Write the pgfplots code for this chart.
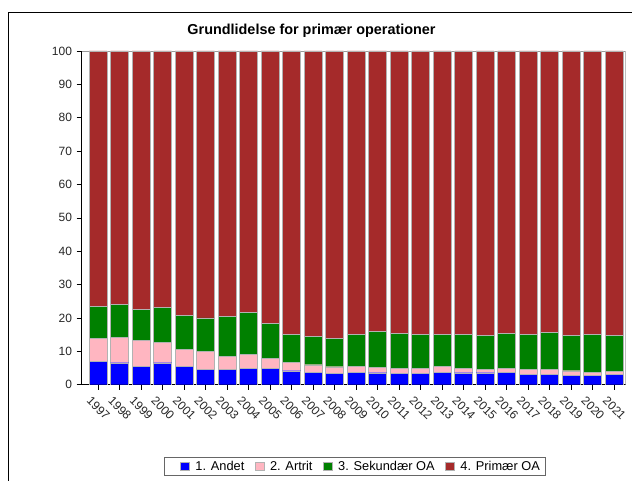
\documentclass[border=0pt]{standalone}
\usepackage{pgfplots}
\pgfplotsset{compat=1.18}
\usepackage{pgfplotstable}
\usepackage{fontspec}
\setmainfont{Liberation Sans}
\definecolor{cAndet}{RGB}{0,0,255}
\definecolor{cArtrit}{RGB}{255,182,193}
\definecolor{cSek}{RGB}{0,128,0}
\definecolor{cPrim}{RGB}{165,42,42}
\pgfplotstableread{
x andet artrit sek prim
0 7.1 6.9 9.5 76.5
1 6.6 7.7 9.7 76.0
2 5.5 7.9 9.1 77.5
3 6.6 6.1 10.4 76.9
4 5.6 5.0 10.1 79.3
5 4.7 5.2 10.1 80.0
6 4.7 3.7 12.0 79.6
7 4.9 4.3 12.4 78.4
8 5.0 3.0 10.3 81.7
9 4.2 2.5 8.4 84.9
10 3.7 2.3 8.6 85.4
11 3.4 2.0 8.5 86.1
12 3.7 1.9 9.4 85.0
13 3.6 1.7 10.6 84.1
14 3.4 1.5 10.6 84.5
15 3.5 1.5 10.2 84.8
16 3.8 1.7 9.5 85.0
17 3.6 1.3 10.1 85.0
18 3.6 1.0 10.2 85.2
19 3.7 1.2 10.4 84.7
20 3.2 1.4 10.4 85.0
21 3.2 1.5 10.9 84.4
22 2.9 1.3 10.7 85.1
23 2.8 0.9 11.4 84.9
24 3.1 1.0 10.6 85.3
}\datatable
\begin{document}
\begin{tikzpicture}
\useasboundingbox (0,0) rectangle (474pt,360.75pt);
\draw[black, line width=0.6pt] (6pt,0pt) -- (6pt,351.75pt) -- (474pt,351.75pt);
\begin{axis}[
  at={(61.3pt,72.2pt)}, anchor=south west,
  scale only axis, width=408pt, height=250.3pt,
  ybar stacked, bar width=0.84,
  xmin=-0.76, xmax=24.54, ymin=0, ymax=100,
  axis x line*=bottom, axis y line*=left,
  axis line style={black, line width=0.6pt},
  xtick=data,
  xticklabels={1997,1998,1999,2000,2001,2002,2003,2004,2005,2006,2007,2008,2009,2010,2011,2012,2013,2014,2015,2016,2017,2018,2019,2020,2021},
  ytick={0,10,...,100},
  tick align=outside, major tick length=3.75pt,
  tick style={black, line width=0.5pt},
  /pgf/number format/assume math mode=true,
  ticklabel style={font=\fontsize{9}{10}\selectfont, text=black!85},
  x tick label style={rotate=-45, anchor=north west, xshift=-3.5pt, yshift=-3pt},
  title={\textbf{Grundlidelse for primær operationer}},
  title style={at={(0.4224,1)}, anchor=base, yshift=6pt, font=\fontsize{10.8}{12}\selectfont},
  legend columns=5,
  legend style={at={(0.502,-0.245)}, anchor=center, draw=black!60, line width=0.4pt,
    font=\fontsize{9.6}{10}\selectfont, inner xsep=2pt, inner ysep=0.5pt,
    /tikz/every even column/.append style={column sep=6pt}},
  legend image code/.code={\draw[#1, line width=0.4pt] (0pt,-3.2pt) rectangle (6.4pt,3.2pt);},
]
\addlegendimage{empty legend}
\addlegendentry{\hspace{20pt}}
\addplot[fill=cAndet, draw=black!30, line width=0.3pt] table[x=x, y=andet] {\datatable};
\addlegendentry{\hspace{2.5pt}1. Andet}
\addplot[fill=cArtrit, draw=black!30, line width=0.3pt] table[x=x, y=artrit] {\datatable};
\addlegendentry{\hspace{2.5pt}2. Artrit}
\addplot[fill=cSek, draw=black!30, line width=0.3pt] table[x=x, y=sek] {\datatable};
\addlegendentry{\hspace{2.5pt}3. Sekundær OA}
\addplot[fill=cPrim, draw=black!30, line width=0.3pt] table[x=x, y=prim] {\datatable};
\addlegendentry{\hspace{2.5pt}4. Primær OA}
\draw[black!40, line width=0.5pt] (rel axis cs:0,1) -- (rel axis cs:1,1) -- (rel axis cs:1,0);
\end{axis}
\end{tikzpicture}
\end{document}
